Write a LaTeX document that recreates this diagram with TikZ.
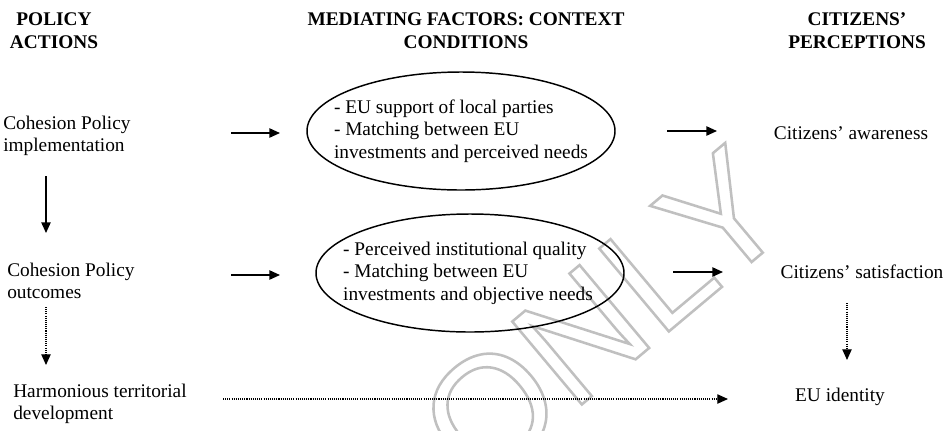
\documentclass[tikz,border=0pt]{standalone}
\usepackage{fontspec}
\setmainfont{Liberation Serif}
\newfontfamily\stampfont{Liberation Sans}
\usetikzlibrary{shapes.geometric,arrows.meta}
\definecolor{stampgray}{RGB}{192,192,192}
% hollow letters: stroke the glyph outlines instead of filling them
\newcommand{\hollow}[1]{\special{pdf:literal direct 1 Tr 1.9 w}#1\special{pdf:literal direct 0 Tr 0.4 w}}

\begin{document}
\begin{tikzpicture}[x=0.75pt,y=-0.75pt,
  txt/.style={font=\fontsize{14.5}{16.9}\selectfont, inner sep=0pt, align=left},
  head/.style={font=\fontsize{14.5}{17.2}\selectfont\bfseries, inner sep=0pt, align=center},
  oval/.style={draw, ellipse, line width=1.1pt, minimum width=231pt, minimum height=88.5pt, inner sep=0pt},
  arr/.style={line width=1.1pt, -{Triangle[length=8pt,width=7pt]}},
  darr/.style={line width=0.9pt, dash pattern=on 0.8pt off 0.8pt, -{Triangle[length=8pt,width=7pt]}}]
\useasboundingbox[fill=white] (0,0) rectangle (946,430);

% stamp across the middle
\node[text=stampgray, rotate=40, inner sep=0pt, font=\stampfont\fontsize{118}{118}\selectfont] (stamp) at (603,316) {\hollow{ONLY}};

% column headings
\node[head] (hpol) at (54,31) {POLICY\\ACTIONS};
\node[head] (hmed) at (466,31) {MEDIATING FACTORS: CONTEXT\\CONDITIONS};
\node[head] (hcit) at (857,31) {CITIZENS’\\PERCEPTIONS};

% policy actions
\node[txt, anchor=west] (impl) at (3,136) {Cohesion Policy\\implementation};
\node[txt, anchor=west] (outc) at (7,281) {Cohesion Policy\\outcomes};
\node[txt, anchor=west] (harm) at (13,404) {Harmonious territorial\\development};

% mediating factors
\node[oval] (ctx1) at (461,131) {};
\node[txt] (ctx1t) at (ctx1.center) {- EU support of local parties\\- Matching between EU\\investments and perceived needs};
\node[oval] (ctx2) at (470,273) {};
\node[txt] (ctx2t) at ([xshift=-1.5pt]ctx2.center) {- Perceived institutional quality\\- Matching between EU\\investments and objective needs};

% citizens' perceptions
\node[txt] (aware) at (851,133) {Citizens’ awareness};
\node[txt] (satis) at (862,272) {Citizens’ satisfaction};
\node[txt] (ident) at (840,397) {EU identity};

% arrow end points
\coordinate (a1s) at (231,133); \coordinate (a1e) at (280,133);
\coordinate (a2s) at (231,275); \coordinate (a2e) at (280,275);
\coordinate (b1s) at (667,131); \coordinate (b1e) at (717,131);
\coordinate (b2s) at (673,272); \coordinate (b2e) at (723,272);
\coordinate (v1s) at (46,176);  \coordinate (v1e) at (46,233);
\coordinate (v2s) at (46,307);  \coordinate (v2e) at (46,365);
\coordinate (v3s) at (847,303); \coordinate (v3e) at (847,360);
\coordinate (h3s) at (223,399); \coordinate (h3e) at (728,399);

\draw[arr] (a1s) -- (a1e);
\draw[arr] (a2s) -- (a2e);
\draw[arr] (b1s) -- (b1e);
\draw[arr] (b2s) -- (b2e);
\draw[arr] (v1s) -- (v1e);
\draw[darr] (v2s) -- (v2e);
\draw[darr] (v3s) -- (v3e);
\draw[darr] (h3s) -- (h3e);
\end{tikzpicture}
\end{document}
